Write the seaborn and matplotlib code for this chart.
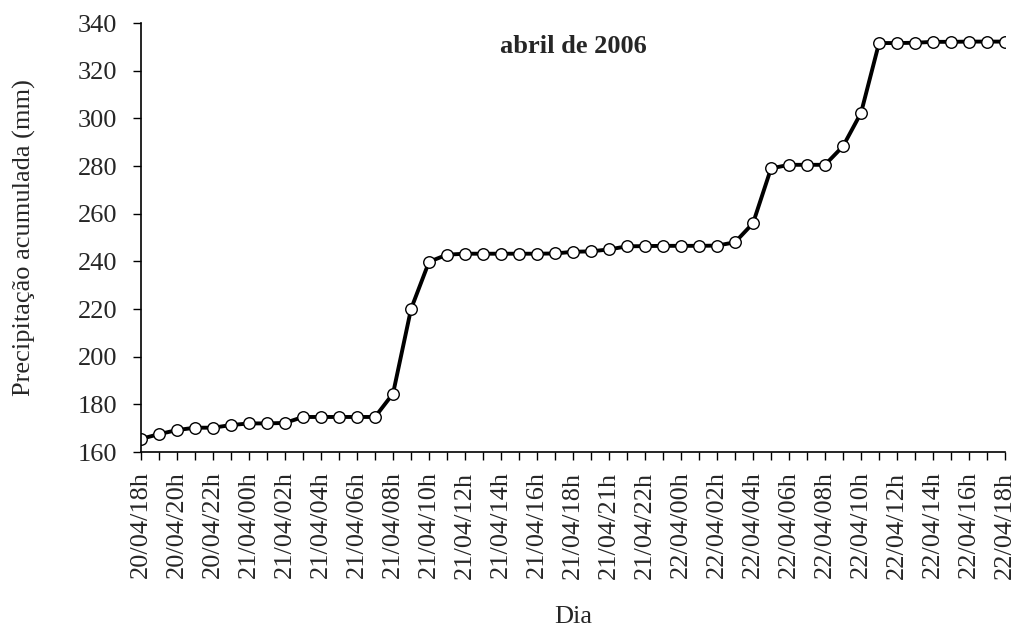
import matplotlib
matplotlib.use("Agg")
import matplotlib.pyplot as plt
import pandas as pd
import numpy as np
import seaborn as sns

# accumulated precipitation, hourly readings (mm)
precip = [165.5, 167.5, 169.2, 170.2, 170.2, 171.3, 172.0, 172.0, 172.2, 174.7,
          174.7, 174.7, 174.7, 174.7, 184.5, 220.0, 239.8, 242.8, 243.2, 243.2,
          243.2, 243.2, 243.2, 243.3, 244.0, 244.2, 245.0, 246.3, 246.4, 246.5,
          246.5, 246.5, 246.6, 248.0, 256.0, 279.0, 280.5, 280.5, 280.5, 288.3,
          302.3, 331.6, 331.6, 331.7, 332.1, 332.1, 332.2, 332.2, 332.2]

tick_labels = ['20/04/18h', '20/04/20h', '20/04/22h',
               '21/04/00h', '21/04/02h', '21/04/04h', '21/04/06h', '21/04/08h',
               '21/04/10h', '21/04/12h', '21/04/14h', '21/04/16h', '21/04/18h',
               '21/04/21h', '21/04/22h',
               '22/04/00h', '22/04/02h', '22/04/04h', '22/04/06h', '22/04/08h',
               '22/04/10h', '22/04/12h', '22/04/14h', '22/04/16h', '22/04/18h']

df = pd.DataFrame({'hora': np.arange(len(precip)), 'precip': precip})

sns.set_style("ticks")
plt.rcParams['font.family'] = ['Liberation Serif', 'DejaVu Serif']
fs = 19

fig, ax = plt.subplots(figsize=(10.19, 6.27), dpi=100)
fig.subplots_adjust(left=0.1384, right=0.9863, top=0.9633, bottom=0.2791)

sns.lineplot(data=df, x='hora', y='precip', ax=ax, color='black', linewidth=2.8,
             marker='o', markersize=8.3, markerfacecolor='white',
             markeredgecolor='black', markeredgewidth=1.0)

ax.set_xlim(0, len(precip) - 1)
ax.set_ylim(160, 340)
ax.set_yticks(np.arange(160, 341, 20))
ax.set_xticks(np.arange(len(precip)), minor=True)
ax.set_xticks(np.arange(0, len(precip), 2))
ax.set_xticklabels(tick_labels, rotation=90, fontsize=fs)
ax.tick_params(axis='y', labelsize=fs, length=6, width=1, color='black', pad=11)
ax.tick_params(axis='x', which='both', length=6, width=1, color='black')
ax.tick_params(axis='x', which='major', pad=8)

for s in ['left', 'bottom']:
    ax.spines[s].set_linewidth(1.2)
    ax.spines[s].set_color('black')
sns.despine(ax=ax)

ax.set_xlabel('Dia', fontsize=fs, labelpad=20)
ax.set_ylabel('Precipitação acumulada (mm)', fontsize=fs, labelpad=30)
ax.text(0.5, 0.945, 'abril de 2006', transform=ax.transAxes, ha='center',
        va='center', fontsize=fs, fontweight='bold')

fig.savefig('out.png', dpi=100)
